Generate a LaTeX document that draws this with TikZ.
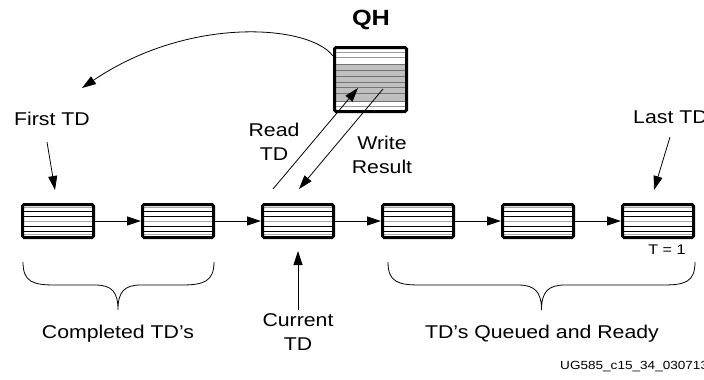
\documentclass[tikz,border=0pt]{standalone}
\usepackage{fontspec}
\setmainfont[FakeStretch=1.15]{Liberation Sans}
\usetikzlibrary{arrows.meta,calc}
\newcommand\tdline[2]{\draw[#2] ($(path picture bounding box.north west)!#1!(path picture bounding box.south west)$) -- ($(path picture bounding box.north east)!#1!(path picture bounding box.south east)$);}
\tikzset{
 tiparrow/.style={-{Triangle[length=14pt,width=9pt]}},
 conn/.style={line width=0.8pt, tiparrow},
 lbl/.style={font=\fontsize{18.5}{24}\selectfont, align=center, inner sep=0pt},
 small/.style={font=\fontsize{14}{16}\selectfont, inner sep=0pt},
 tdbox/.style={draw, line width=3pt, rounded corners=1.5pt, minimum width=71pt, minimum height=33pt, inner sep=0pt,
   path picture={
     \tdline{0.10}{gray!70,line width=0.8pt}
     \tdline{0.20}{black,line width=0.8pt}
     \tdline{0.36}{black,line width=0.8pt}
     \tdline{0.52}{gray!70,line width=0.8pt}
     \tdline{0.66}{black,line width=0.8pt}
     \tdline{0.81}{black,line width=0.8pt}
     \tdline{0.91}{gray!70,line width=0.8pt}
   }},
 qhbox/.style={draw, line width=3pt, rounded corners=1.5pt, minimum width=72pt, minimum height=64pt, inner sep=0pt,
   path picture={
     \fill[gray!50] ($(path picture bounding box.north west)!0.27!(path picture bounding box.south west)$) rectangle ($(path picture bounding box.north east)!0.84!(path picture bounding box.south east)$);
     \tdline{0.08}{gray!80,line width=0.8pt}
     \tdline{0.16}{gray!80,line width=0.8pt}
     \tdline{0.27}{gray!90!black,line width=0.8pt}
     \tdline{0.36}{gray!90!black,line width=0.8pt}
     \tdline{0.45}{gray!90!black,line width=0.8pt}
     \tdline{0.54}{gray!90!black,line width=0.8pt}
     \tdline{0.63}{gray!90!black,line width=0.8pt}
     \tdline{0.72}{gray!90!black,line width=0.8pt}
     \tdline{0.84}{gray!90!black,line width=0.8pt}
     \tdline{0.92}{gray!80,line width=0.8pt}
   }},
}
\begin{document}
\begin{tikzpicture}[x=1pt,y=-1pt]
\useasboundingbox (0,0) rectangle (704,380);
% TD boxes
\node[tdbox] (t1) at (58,221) {};
\node[tdbox] (t2) at (178,221) {};
\node[tdbox] (t3) at (298,221) {};
\node[tdbox] (t4) at (418,221) {};
\node[tdbox] (t5) at (538,221) {};
\node[tdbox] (t6) at (658,221) {};
\draw[conn] (t1) -- (t2);
\draw[conn] (t2) -- (t3);
\draw[conn] (t3) -- (t4);
\draw[conn] (t4) -- (t5);
\draw[conn] (t5) -- (t6);
% QH
\node[qhbox] (qh) at (370.5,79.5) {};
\node[font=\fontsize{22}{24}\selectfont\bfseries, inner sep=0pt] (qht) at (371,20) {QH};
% labels
\node[lbl] (first) at (52,119) {First TD};
\node[lbl, anchor=west] (last) at (633,117) {Last TD};
\coordinate (fa) at (47,142);
\coordinate (fb) at (55,190);
\draw[conn] (fa) -- (fb);
\coordinate (la) at (670,137);
\coordinate (lb) at (654,190);
\draw[conn] (la) -- (lb);
% curve from QH to first TD
\coordinate (cs) at (333,56);
\coordinate (ce) at (82,88);
\draw[conn] (cs) .. controls (310,25) and (190,15) .. (ce);
% read / write
\coordinate (ra) at (273,189);
\coordinate (rb) at (358,88);
\draw[conn] (ra) -- (rb);
\coordinate (wa) at (383,89);
\coordinate (wb) at (299,189);
\draw[conn] (wa) -- (wb);
\node[lbl] (read) at (274,142) {Read\\TD};
\node[lbl] (write) at (382,155) {Write\\Result};
% current
\coordinate (ca) at (298,310);
\draw[conn] (ca) -- ($(t3.south)+(0,12)$);
\node[lbl] (cur) at (298,332) {Current\\TD};
% T = 1
\node[small] (tone) at (667,250) {T = 1};
% braces
\draw[line width=0.8pt] (23,262) .. controls (23,282) and (33,285) .. (55,285) -- (95,285) .. controls (112,285) and (118,292) .. (118,310) .. controls (118,292) and (124,285) .. (141,285) -- (181,285) .. controls (203,285) and (214,282) .. (214,262);
\draw[line width=0.8pt] (388,262) .. controls (388,282) and (398,285) .. (420,285) -- (518,285) .. controls (535,285) and (541.5,292) .. (541.5,310) .. controls (541.5,292) and (548,285) .. (565,285) -- (663,285) .. controls (685,285) and (695,282) .. (695,262);
\node[lbl] (comp) at (118,334) {Completed TD’s};
\node[lbl] (queued) at (542,334) {TD’s Queued and Ready};
\node[font=\fontsize{11.8}{14}\selectfont, inner sep=0pt, anchor=west] (ug) at (560,367) {UG585\_c15\_34\_030713};
\end{tikzpicture}
\end{document}
